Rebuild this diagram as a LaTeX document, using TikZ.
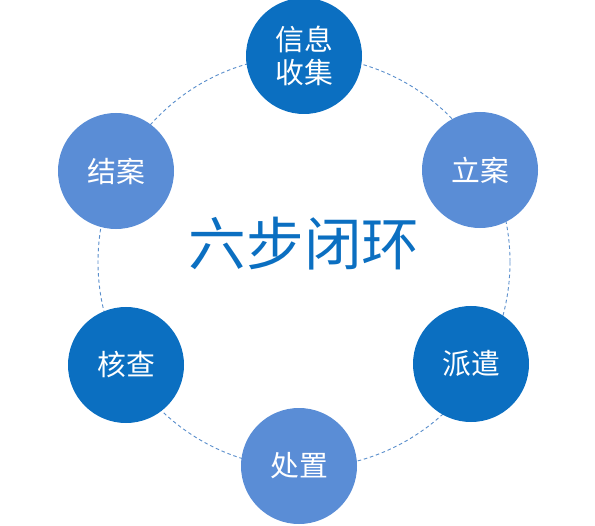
\documentclass[tikz,border=0pt]{standalone}
\usepackage{fontspec}
\setmainfont{Noto Sans CJK SC}
\usepackage{xcolor}
\usetikzlibrary{positioning}
\definecolor{darkstep}{HTML}{0B6FC1}
\definecolor{lightstep}{HTML}{5A8DD6}
\definecolor{ringcolor}{HTML}{5B8FCC}
\tikzset{
  step node/.style={
    circle,
    minimum size=58mm,
    inner sep=0pt,
    text=white,
    align=center,
    font=\fontsize{41}{48}\selectfont
  },
  dark step/.style={
    step node,
    fill=darkstep
  },
  light step/.style={
    step node,
    fill=lightstep
  },
  ring/.style={
    draw=ringcolor,
    line width=1.3pt,
    dash pattern=on 5pt off 4pt
  }
}
\begin{document}
\begin{tikzpicture}[x=0.5mm, y=-0.5mm]
  \useasboundingbox (0,0) rectangle (595,526);

  % Ring
  \coordinate (hub) at (304,262);
  \draw[ring] (hub) circle[radius=206];

  % Title
  \node[text=darkstep, font=\fontsize{82}{90}\selectfont] (title) at (304,244) {六步闭环};

  % Steps
  \node[dark step]  (info)     at (304,56)  {信息\\收集};
  \node[light step] (filing)   at (480,170) {立案};
  \node[dark step]  (dispatch) at (471,364) {派遣};
  \node[light step] (handle)   at (299,466) {处置};
  \node[dark step]  (verify)   at (126,365) {核查};
  \node[light step] (close)    at (116,171) {结案};

\end{tikzpicture}
\end{document}
